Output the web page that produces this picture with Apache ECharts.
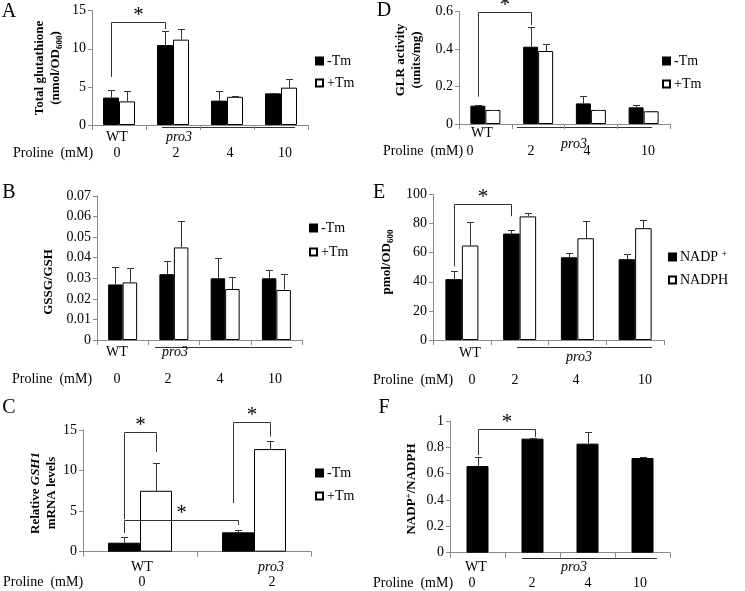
<!DOCTYPE html>
<html><head><meta charset="utf-8">
<script src="https://cdn.jsdelivr.net/npm/echarts@6/dist/echarts.min.js"></script>
<style>html,body{margin:0;padding:0;background:#fff}#c{width:745px;height:591px}</style>
</head><body><div id="c"></div>
<script>
// ---------------- DATA ----------------
const prolineCats = ['0', '2', '4', '10'];
const cCats = ['0', '2'];

// A: Total glutathione (nmol/OD600)
const aYTicks = [0, 5, 10, 15];
const aMinusTm = [3.6, 10.5, 3.2, 4.15];
const aMinusTmErr = [1.0, 1.8, 1.3, 0.05];
const aPlusTm = [3.1, 11.2, 3.7, 4.9];
const aPlusTmErr = [1.4, 1.35, 0.13, 1.1];

// B: GSSG/GSH
const bYTicks = [0, 0.01, 0.02, 0.03, 0.04, 0.05, 0.06, 0.07];
const bMinusTm = [0.027, 0.032, 0.030, 0.030];
const bMinusTmErr = [0.0086, 0.0066, 0.0097, 0.0039];
const bPlusTm = [0.028, 0.045, 0.0248, 0.0243];
const bPlusTmErr = [0.007, 0.013, 0.0057, 0.0076];

// C: Relative GSH1 mRNA levels
const cYTicks = [0, 5, 10, 15];
const cMinusTm = [1.11, 2.39];
const cMinusTmErr = [0.66, 0.28];
const cPlusTm = [7.51, 12.65];
const cPlusTmErr = [3.38, 0.98];

// D: GLR activity (units/mg)
const dYTicks = [0, 0.2, 0.4, 0.6];
const dMinusTm = [0.098, 0.413, 0.110, 0.089];
const dMinusTmErr = [0.005, 0.103, 0.040, 0.011];
const dPlusTm = [0.075, 0.390, 0.075, 0.068];
const dPlusTmErr = [0.002, 0.035, 0.002, 0.003];

// E: pmol/OD600
const eYTicks = [0, 20, 40, 60, 80, 100];
const eNADP = [41.8, 73.1, 56.8, 55.5];
const eNADPErr = [5.9, 2.5, 3.2, 3.4];
const eNADPH = [64.9, 84.9, 69.9, 76.8];
const eNADPHErr = [15.9, 2.3, 11.9, 5.3];

// F: NADP+/NADPH
const fYTicks = [0, 0.2, 0.4, 0.6, 0.8, 1];
const fRatio = [0.658, 0.866, 0.828, 0.719];
const fRatioErr = [0.071, 0.005, 0.091, 0.005];

// ---------------- LAYOUT / STYLE ----------------
const FF = 'Liberation Serif';
const AX = '#8a8a8a';
const LINE = '#333';

const panels = [
  { letter: 'A', lx: 9, ly: 12, grid: {left: 92, top: 10.7, width: 216, height: 114.3}, yTicks: aYTicks, cats: prolineCats, bw: 16,
    series: [{name: '-Tm', vals: aMinusTm, err: aMinusTmErr, fill: '#000'}, {name: '+Tm', vals: aPlusTm, err: aPlusTmErr, fill: '#fff'}],
    brackets: [[0, -1, 6.3, 1, -1, 12.6, 13.5]],
    legend: {left: 315, top: 53, gap: 6},
    ylab: {x: 48, y: 68, text: '{b|Total glutathione}\n{b|(nmol/OD}{s|600}{b|)}'},
    strain: {wt: [117, 137], pro3: [179, 137], line: [162, 295, 127]},
    prol: {x: 13, y: 153, xs: [117, 176, 230, 285]} },
  { letter: 'B', lx: 9, ly: 193, grid: {left: 97, top: 196, width: 205, height: 144}, yTicks: bYTicks, cats: prolineCats, bw: 14.5,
    series: [{name: '-Tm', vals: bMinusTm, err: bMinusTmErr, fill: '#000'}, {name: '+Tm', vals: bPlusTm, err: bPlusTmErr, fill: '#fff'}],
    brackets: [],
    legend: {left: 309, top: 220, gap: 8},
    ylab: {x: 49, y: 282, text: '{b|GSSG/GSH}'},
    strain: {wt: [117, 352], pro3: [175, 352], line: [155, 292, 347]},
    prol: {x: 12, y: 379, xs: [117, 168, 220, 275]} },
  { letter: 'C', lx: 9, ly: 408, grid: {left: 83, top: 430, width: 228, height: 121.7}, yTicks: cYTicks, cats: cCats, bw: 32,
    series: [{name: '-Tm', vals: cMinusTm, err: cMinusTmErr, fill: '#000'}, {name: '+Tm', vals: cPlusTm, err: cPlusTmErr, fill: '#fff'}],
    brackets: [[0, -1, 4.0, 0, 1, 12.3, 14.7], [1, -1.3, 6.0, 1, 1, 14.2, 16.0], [0, -1, 2.3, 1, -1, 3.3, 3.9]],
    legend: {left: 315, top: 465, gap: 7},
    ylab: {x: 44, y: 493, text: '{b|Relative }{bi|GSH1}\n{b|mRNA levels}'},
    strain: {wt: [142, 567], pro3: [271, 567], line: null},
    prol: {x: 3, y: 582, xs: [142, 272]} },
  { letter: 'D', lx: 384, ly: 11, grid: {left: 459, top: 11.7, width: 211, height: 112.3}, yTicks: dYTicks, cats: prolineCats, bw: 15,
    series: [{name: '-Tm', vals: dMinusTm, err: dMinusTmErr, fill: '#000'}, {name: '+Tm', vals: dPlusTm, err: dPlusTmErr, fill: '#fff'}],
    brackets: [[0, -1, 0.146, 1, -1, 0.529, 0.598]],
    legend: {left: 662, top: 53, gap: 7},
    ylab: {x: 409, y: 60, text: '{b|GLR activity}\n{b|(units/mg)}'},
    strain: {wt: [482, 133], pro3: [574, 144], line: [517, 652, 127]},
    prol: {x: 383, y: 151, xs: [470, 531, 587, 648]} },
  { letter: 'E', lx: 379, ly: 193, grid: {left: 433, top: 194.4, width: 231, height: 145.6}, yTicks: eYTicks, cats: prolineCats, bw: 16.5,
    series: [{name: 'NADP+', vals: eNADP, err: eNADPErr, fill: '#000'}, {name: 'NADPH', vals: eNADPH, err: eNADPHErr, fill: '#fff'}],
    brackets: [[0, -1, 50.6, 1, -1, 85, 93.6]],
    legend: {left: 668, top: 249, gap: 7},
    ylab: {x: 387, y: 262, text: '{b|pmol/OD}{s|600}'},
    strain: {wt: [470, 353], pro3: [579, 357], line: [517, 652, 347]},
    prol: {x: 373, y: 380, xs: [472, 515, 576, 645]} },
  { letter: 'F', lx: 384, ly: 408, grid: {left: 450, top: 421, width: 220, height: 131.7}, yTicks: fYTicks, cats: prolineCats, bw: 22,
    series: [{name: 'NADP+/NADPH', vals: fRatio, err: fRatioErr, fill: '#000'}],
    brackets: [[0, 0, 0.742, 1, 0.2, 0.879, 0.939]],
    legend: null,
    ylab: {x: 412, y: 489, text: '{b|NADP}{sp|+}{b|/NADPH}'},
    strain: {wt: [476, 567], pro3: [574, 567], line: [522, 657, 558]},
    prol: {x: 373, y: 583, xs: [472, 532, 588, 640]} }
];

// ---------------- BUILD ----------------
const option = {animation: false, backgroundColor: '#fff', grid: [], xAxis: [], yAxis: [], series: [], legend: [], graphic: []};

function txt(text, x, y, o) {
  o = o || {};
  return {type: 'text', x: x, y: y, rotation: o.rot || 0, silent: true, z: 10,
    style: {text: text, fill: '#000', font: (o.style || '') + ' ' + (o.weight || 'normal') + ' ' + (o.size || 14) + 'px "' + FF + '"',
      align: o.align || 'center', verticalAlign: o.va || 'middle', textAlign: o.align || 'center', textVerticalAlign: o.va || 'middle', rich: o.rich}};
}

const ylabRich = {
  b: {fontFamily: FF, fontWeight: 'bold', fontSize: 13, lineHeight: 16},
  bi: {fontFamily: FF, fontWeight: 'bold', fontStyle: 'italic', fontSize: 13, lineHeight: 16},
  s: {fontFamily: FF, fontWeight: 'bold', fontSize: 9, lineHeight: 9, verticalAlign: 'bottom'},
  sp: {fontFamily: FF, fontWeight: 'bold', fontSize: 9, lineHeight: 9, verticalAlign: 'top'}
};

panels.forEach((p, gi) => {
  const nS = p.series.length;
  option.grid.push({left: p.grid.left, top: p.grid.top, width: p.grid.width, height: p.grid.height, containLabel: false, outerBoundsMode: 'none'});
  option.xAxis.push({type: 'category', gridIndex: gi, data: p.cats,
    axisLine: {show: true, lineStyle: {color: AX, width: 1}},
    axisTick: {show: true, length: 5, lineStyle: {color: AX}},
    axisLabel: {show: false}, splitLine: {show: false}});
  const yt = p.yTicks;
  option.yAxis.push({type: 'value', gridIndex: gi, min: yt[0], max: yt[yt.length - 1], interval: yt[1] - yt[0],
    axisLine: {show: true, lineStyle: {color: AX, width: 1}},
    axisTick: {show: true, length: 4, lineStyle: {color: AX}},
    splitLine: {show: false},
    axisLabel: {fontFamily: FF, fontSize: 14, color: '#000', margin: 6,
      formatter: v => { const i = yt.findIndex(t => Math.abs(t - v) < 1e-9); return i >= 0 ? String(yt[i]) : ''; }}});

  p.series.forEach((s) => {
    option.series.push({type: 'bar', name: s.name, xAxisIndex: gi, yAxisIndex: gi, data: s.vals,
      barWidth: p.bw, barGap: '0%', z: 2,
      itemStyle: {color: s.fill, borderColor: '#000', borderWidth: 1}});
  });
  p.series.forEach((s, si) => {
    const side = nS === 1 ? 0 : (si === 0 ? -1 : 1);
    const bw = p.bw;
    option.series.push({type: 'custom', name: s.name + ' err', xAxisIndex: gi, yAxisIndex: gi, z: 5, silent: true, clip: false,
      data: s.vals.map((v, i) => [i, v, v + s.err[i]]),
      encode: {x: 0, y: [1, 2]},
      renderItem: (params, api) => {
        const lo = api.coord([api.value(0), api.value(1)]);
        const hi = api.coord([api.value(0), api.value(2)]);
        const x = Math.round(lo[0] + side * bw / 2) + 0.5;
        const yh = Math.round(hi[1]) + 0.5;
        return {type: 'group', children: [
          {type: 'line', shape: {x1: x, y1: lo[1], x2: x, y2: yh}, style: {stroke: LINE, lineWidth: 1}},
          {type: 'line', shape: {x1: x - 3.5, y1: yh, x2: x + 3.5, y2: yh}, style: {stroke: LINE, lineWidth: 1}}
        ]};
      }});
  });
  if (p.brackets.length) {
    const bw = p.bw;
    option.series.push({type: 'custom', name: 'sig' + gi, xAxisIndex: gi, yAxisIndex: gi, z: 6, silent: true, clip: false,
      data: p.brackets, encode: {x: 0, y: 6},
      renderItem: (params, api) => {
        const c1 = api.coord([api.value(0), api.value(2)]);
        const c2 = api.coord([api.value(3), api.value(5)]);
        const t = api.coord([api.value(0), api.value(6)]);
        const x1 = Math.round(c1[0] + api.value(1) * bw / 2) + 0.5;
        const x2 = Math.round(c2[0] + api.value(4) * bw / 2) + 0.5;
        const ytp = Math.round(t[1]) + 0.5;
        return {type: 'group', children: [
          {type: 'polyline', shape: {points: [[x1, c1[1]], [x1, ytp], [x2, ytp], [x2, c2[1]]]}, style: {stroke: LINE, fill: null, lineWidth: 1}},
          {type: 'text', x: (x1 + x2) / 2, y: ytp + 3, style: {text: '*', font: 'normal 21px "' + FF + '"', fill: '#000',
            align: 'center', verticalAlign: 'bottom', textAlign: 'center', textVerticalAlign: 'bottom'}}
        ]};
      }});
  }
  if (p.legend) {
    option.legend.push({left: p.legend.left, top: p.legend.top, orient: 'vertical', padding: 0, itemGap: p.legend.gap,
      itemWidth: 7, itemHeight: 7, icon: 'rect', selectedMode: false,
      data: p.series.map(s => s.name),
      formatter: n => n === 'NADP+' ? 'NADP {sp|+}' : n,
      textStyle: {fontFamily: FF, fontSize: 14, color: '#000', lineHeight: 16, padding: [0, 0, 0, -1],
        rich: {sp: {fontFamily: FF, fontSize: 10, lineHeight: 10, verticalAlign: 'top'}}}});
  }
  // annotations
  option.graphic.push(txt(p.letter, p.lx, p.ly, {size: 20}));
  option.graphic.push(txt(p.ylab.text, p.ylab.x, p.ylab.y, {rot: Math.PI / 2, rich: ylabRich}));
  option.graphic.push(txt('WT', p.strain.wt[0], p.strain.wt[1]));
  option.graphic.push(txt('pro3', p.strain.pro3[0], p.strain.pro3[1], {style: 'italic'}));
  if (p.strain.line) {
    const L = p.strain.line;
    option.graphic.push({type: 'line', silent: true, shape: {x1: L[0], y1: L[2] + 0.5, x2: L[1], y2: L[2] + 0.5}, style: {stroke: LINE, lineWidth: 1}});
  }
  option.graphic.push(txt('Proline  (mM)', p.prol.x, p.prol.y, {align: 'left'}));
  p.cats.forEach((c, i) => option.graphic.push(txt(c, p.prol.xs[i], p.prol.y)));
});

const chart = echarts.init(document.getElementById('c'), null, {renderer: 'canvas'});
chart.setOption(option);
</script>
</body></html>
